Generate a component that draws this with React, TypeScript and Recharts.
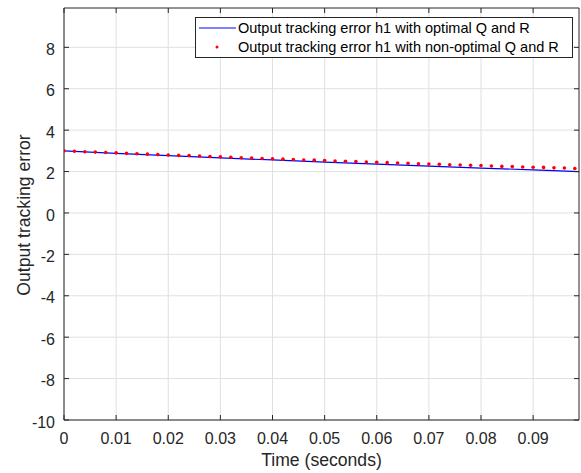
import React from 'react';
import {
  ComposedChart, Line, Scatter, XAxis, YAxis, CartesianGrid,
} from 'recharts';

const blueTime = [0, 0.01, 0.02, 0.03, 0.04, 0.05, 0.06, 0.07, 0.08, 0.09, 0.0988];
const blueValues = [3.0, 2.88, 2.77, 2.66, 2.56, 2.46, 2.36, 2.26, 2.17, 2.08, 2.0];

const redTime = [
  0, 0.002, 0.004, 0.006, 0.008, 0.01, 0.012, 0.014, 0.016, 0.018,
  0.02, 0.022, 0.024, 0.026, 0.028, 0.03, 0.032, 0.034, 0.036, 0.038,
  0.04, 0.042, 0.044, 0.046, 0.048, 0.05, 0.052, 0.054, 0.056, 0.058,
  0.06, 0.062, 0.064, 0.066, 0.068, 0.07, 0.072, 0.074, 0.076, 0.078,
  0.08, 0.082, 0.084, 0.086, 0.088, 0.09, 0.092, 0.094, 0.096, 0.098,
];
const redValues = [
  3.0, 2.98, 2.96, 2.94, 2.92, 2.9, 2.88, 2.86, 2.84, 2.82,
  2.8, 2.78, 2.77, 2.75, 2.73, 2.71, 2.69, 2.67, 2.65, 2.63,
  2.62, 2.6, 2.58, 2.56, 2.55, 2.53, 2.51, 2.5, 2.48, 2.46,
  2.45, 2.43, 2.41, 2.4, 2.38, 2.36, 2.35, 2.33, 2.32, 2.3,
  2.29, 2.27, 2.25, 2.24, 2.22, 2.21, 2.2, 2.18, 2.17, 2.15,
];

const xTicks = [0, 0.01, 0.02, 0.03, 0.04, 0.05, 0.06, 0.07, 0.08, 0.09];
const yTicks = [-10, -8, -6, -4, -2, 0, 2, 4, 6, 8];
const xDomain: [number, number] = [0, 0.0988];
const yDomain: [number, number] = [-10, 9.9];

const seriesNames = [
  'Output tracking error h1 with optimal Q and R',
  'Output tracking error h1 with non-optimal Q and R',
];
const xLabel = 'Time (seconds)';
const yLabel = 'Output tracking error';

const blueData = blueTime.map((t, i) => ({ t, v: blueValues[i] }));
const redData = redTime.map((t, i) => ({ t, v: redValues[i] }));

const AX = '#262626';
const FONT = 'Liberation Sans, Arial, sans-serif';
const TICK_MARGIN = 10;
const TICK_FONT = 16;
const LABEL_FONT = 17.6;

const BottomTick = (props: any) => {
  const { x, y, payload } = props;
  const axisY = y - TICK_MARGIN;
  return (
    <g>
      <line x1={x} y1={axisY} x2={x} y2={axisY - 5} stroke={AX} strokeWidth={1} />
      <text x={x} y={axisY + 24} textAnchor="middle" fill={AX} fontSize={TICK_FONT} fontFamily={FONT}>
        {String(payload.value)}
      </text>
    </g>
  );
};

const TopTick = (props: any) => {
  const { x, y } = props;
  const axisY = y + TICK_MARGIN;
  return <line x1={x} y1={axisY} x2={x} y2={axisY + 5} stroke={AX} strokeWidth={1} />;
};

const LeftTick = (props: any) => {
  const { x, y, payload } = props;
  const axisX = x + TICK_MARGIN;
  return (
    <g>
      <line x1={axisX} y1={y} x2={axisX + 5} y2={y} stroke={AX} strokeWidth={1} />
      <text x={axisX - 9} y={y + 7.6} textAnchor="end" fill={AX} fontSize={TICK_FONT} fontFamily={FONT}>
        {String(payload.value)}
      </text>
    </g>
  );
};

const RightTick = (props: any) => {
  const { x, y } = props;
  const axisX = x - TICK_MARGIN;
  return <line x1={axisX} y1={y} x2={axisX - 5} y2={y} stroke={AX} strokeWidth={1} />;
};

const RedDot = (props: any) => {
  const { cx, cy } = props;
  return <circle cx={cx} cy={cy} r={1.8} fill="#ff0000" />;
};

const LegendBox = () => (
  <div
    style={{
      position: 'absolute',
      left: 195,
      top: 17,
      width: 378,
      height: 41,
      border: '1px solid #262626',
      background: '#ffffff',
      fontFamily: FONT,
      fontSize: 14.5,
      color: '#000',
      whiteSpace: 'nowrap',
      boxSizing: 'border-box',
    }}
  >
    <div style={{ position: 'absolute', left: 3, top: 0, height: 20, display: 'flex', alignItems: 'center' }}>
      <svg width={37} height={10} style={{ marginRight: 2 }}>
        <line x1={0} y1={5} x2={37} y2={5} stroke="#0000ff" strokeWidth={1} />
      </svg>
      <span>{seriesNames[0]}</span>
    </div>
    <div style={{ position: 'absolute', left: 3, top: 19, height: 20, display: 'flex', alignItems: 'center' }}>
      <svg width={37} height={10} style={{ marginRight: 2 }}>
        <circle cx={18} cy={5} r={1.5} fill="#ff0000" />
      </svg>
      <span>{seriesNames[1]}</span>
    </div>
  </div>
);

export default function App() {
  return (
    <div style={{ position: 'absolute', left: 0, top: 0, width: 581, height: 473, background: '#fff' }}>
      <ComposedChart
        width={581}
        height={473}
        margin={{ top: 7, right: 1, bottom: 0, left: 0 }}
        style={{ fontFamily: FONT }}
      >
        <CartesianGrid
          xAxisId="b"
          yAxisId="l"
          stroke="#e0e0e0"
          strokeWidth={1}
          verticalValues={xTicks}
          horizontalValues={yTicks}
        />
        <XAxis
          xAxisId="b"
          type="number"
          dataKey="t"
          domain={xDomain}
          ticks={xTicks}
          allowDataOverflow
          height={53}
          stroke={AX}
          tickSize={0}
          tickMargin={TICK_MARGIN}
          tick={<BottomTick />}
          interval={0}
          label={{
            content: (p: any) => {
              const vb = p.viewBox;
              return (
                <text x={vb.x + vb.width / 2} y={466} textAnchor="middle" fill={AX} fontSize={LABEL_FONT} fontFamily={FONT}>
                  {xLabel}
                </text>
              );
            },
          }}
        />
        <XAxis
          xAxisId="t"
          orientation="top"
          type="number"
          dataKey="t"
          domain={xDomain}
          ticks={xTicks}
          allowDataOverflow
          height={1}
          stroke={AX}
          tickSize={0}
          tickMargin={TICK_MARGIN}
          tick={<TopTick />}
          interval={0}
        />
        <YAxis
          yAxisId="l"
          type="number"
          domain={yDomain}
          ticks={yTicks}
          allowDataOverflow
          width={64}
          stroke={AX}
          tickSize={0}
          tickMargin={TICK_MARGIN}
          tick={<LeftTick />}
          interval={0}
          label={{
            content: (p: any) => {
              const vb = p.viewBox;
              const cx = 30;
              const cy = vb.y + vb.height / 2 + 1;
              return (
                <text x={cx} y={cy} transform={`rotate(-90 ${cx} ${cy})`} textAnchor="middle" fill={AX} fontSize={LABEL_FONT} fontFamily={FONT}>
                  {yLabel}
                </text>
              );
            },
          }}
        />
        <YAxis
          yAxisId="r"
          orientation="right"
          type="number"
          domain={yDomain}
          ticks={yTicks}
          allowDataOverflow
          width={1}
          stroke={AX}
          tickSize={0}
          tickMargin={TICK_MARGIN}
          tick={<RightTick />}
          interval={0}
        />
        <Line
          xAxisId="b"
          yAxisId="l"
          data={blueData}
          dataKey="v"
          type="linear"
          stroke="#0000ff"
          strokeWidth={1.2}
          dot={false}
          isAnimationActive={false}
        />
        <Scatter
          xAxisId="b"
          yAxisId="l"
          data={redData}
          dataKey="v"
          shape={<RedDot />}
          isAnimationActive={false}
        />
      </ComposedChart>
      <LegendBox />
    </div>
  );
}
